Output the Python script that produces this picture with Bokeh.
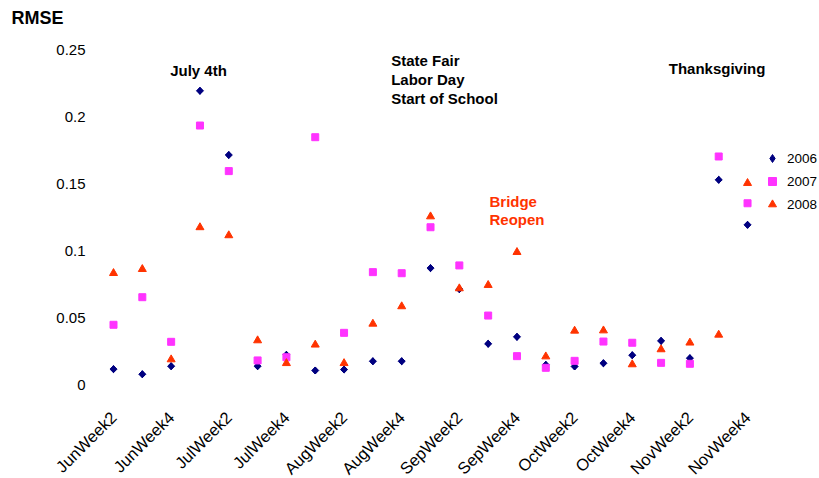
import math
from bokeh.plotting import figure
from bokeh.models import Range1d, FixedTicker, Label, Legend, LegendItem
from bokeh.embed import file_html
from bokeh.resources import INLINE

cats = ["JunWeek2", "JunWeek3", "JunWeek4", "JulWeek1", "JulWeek2", "JulWeek3", "JulWeek4",
        "AugWeek1", "AugWeek2", "AugWeek3", "AugWeek4", "SepWeek1", "SepWeek2", "SepWeek3",
        "SepWeek4", "OctWeek1", "OctWeek2", "OctWeek3", "OctWeek4", "NovWeek1", "NovWeek2",
        "NovWeek3", "NovWeek4"]
v2006 = [0.0122, 0.0084, 0.0144, 0.2199, 0.172, 0.0144, 0.0229, 0.0112, 0.0119, 0.0181, 0.0181,
         0.0876, 0.0719, 0.0311, 0.0363, 0.0154, 0.0142, 0.0166, 0.0226, 0.0333, 0.0204, 0.1535, 0.1199]
v2007 = [0.0453, 0.0659, 0.0326, 0.194, 0.160, 0.0187, 0.0211, 0.1853, 0.0393, 0.0846, 0.0838,
         0.1181, 0.0896, 0.0522, 0.0219, 0.0132, 0.0184, 0.0328, 0.0319, 0.0169, 0.0162, 0.1709, 0.136]
v2008 = [0.0838, 0.0868, 0.0194, 0.118, 0.112, 0.0336, 0.0166, 0.0304, 0.0166, 0.046, 0.059,
         0.1261, 0.0724, 0.0749, 0.0995, 0.0216, 0.0408, 0.041, 0.0157, 0.0269, 0.0319, 0.0378, 0.151]
series_names = ["2006", "2007", "2008"]
y_ticks = [0, 0.05, 0.1, 0.15, 0.2, 0.25]
y_tick_labels = ["0", "0.05", "0.1", "0.15", "0.2", "0.25"]
x_tick_idx = list(range(0, len(cats), 2))
y_title = "RMSE"

idx = list(range(len(cats)))
FONT = "Liberation Sans"
NAVY, MAGENTA, RED = "#000080", "#FF33FF", "#FF3300"

p = figure(width=819, height=478, output_backend="svg", toolbar_location=None,
           x_range=Range1d(-3.921, 24.497), y_range=Range1d(-0.069403, 0.28731),
           min_border_left=0, min_border_top=0, min_border_right=0, min_border_bottom=0)
p.outline_line_color = None
p.grid.visible = False
p.background_fill_color = "white"

for ax in (p.xaxis[0], p.yaxis[0]):
    ax.axis_line_color = None
    ax.major_tick_line_color = None
    ax.minor_tick_line_color = None
    ax.major_tick_out = 0
    ax.major_tick_in = 0
    ax.minor_tick_out = 0
    ax.major_label_text_font = FONT
    ax.major_label_text_color = "#000000"

p.yaxis.fixed_location = -0.798
p.yaxis.major_label_text_font_size = "15px"
p.yaxis.ticker = FixedTicker(ticks=y_ticks)
p.yaxis.major_label_overrides = {t: l for t, l in zip(y_ticks, y_tick_labels)}
p.yaxis.major_label_standoff = 5

p.xaxis.fixed_location = -0.0097
p.xaxis.major_label_text_font_size = "16.5px"
p.xaxis.ticker = FixedTicker(ticks=x_tick_idx)
p.xaxis.major_label_overrides = {i: cats[i] for i in x_tick_idx}
p.xaxis.major_label_orientation = math.pi / 4
p.xaxis.major_label_standoff = 16

# legend swatch renderer for the diamond series (hidden beneath the rotated squares)
r06_leg = p.scatter(idx, v2006, marker="diamond", size=7, color=NAVY)
p.scatter(idx, v2006, marker="square", angle=math.pi / 4, size=5, color=NAVY)
r07 = p.scatter(idx, v2007, marker="square", size=7, color=MAGENTA)
r08 = p.scatter(idx, v2008, marker="triangle", size=8, color=RED)

lg = Legend(items=[LegendItem(label=series_names[0], renderers=[r06_leg]),
                   LegendItem(label=series_names[1], renderers=[r07]),
                   LegendItem(label=series_names[2], renderers=[r08])])
lg.location = (762, 264)
lg.background_fill_alpha = 0
lg.border_line_color = None
lg.padding = 0
lg.margin = 0
lg.spacing = 3
lg.glyph_width = 20
lg.glyph_height = 20
lg.label_height = 20
lg.label_standoff = 5
lg.label_text_font = FONT
lg.label_text_font_size = "13.5px"
lg.label_text_color = "#000000"
p.add_layout(lg, "center")

def ann(x, y, text, color="#000000", size="15px"):
    p.add_layout(Label(x=x, y=y, text=text, text_font=FONT, text_font_size=size,
                       text_font_style="bold", text_color=color,
                       text_align="left", text_baseline="alphabetic"))

ann(-3.539, 0.2745, y_title, size="18px")
ann(1.965, 0.2354, "July 4th")
ann(9.635, 0.2422, "State Fair")
ann(9.635, 0.2285, "Labor Day")
ann(9.635, 0.2143, "Start of School")
ann(13.045, 0.1372, "Bridge", RED)
ann(13.045, 0.1242, "Reopen", RED)
ann(19.265, 0.2367, "Thanksgiving")

open("out.html", "w").write(file_html(p, INLINE))
